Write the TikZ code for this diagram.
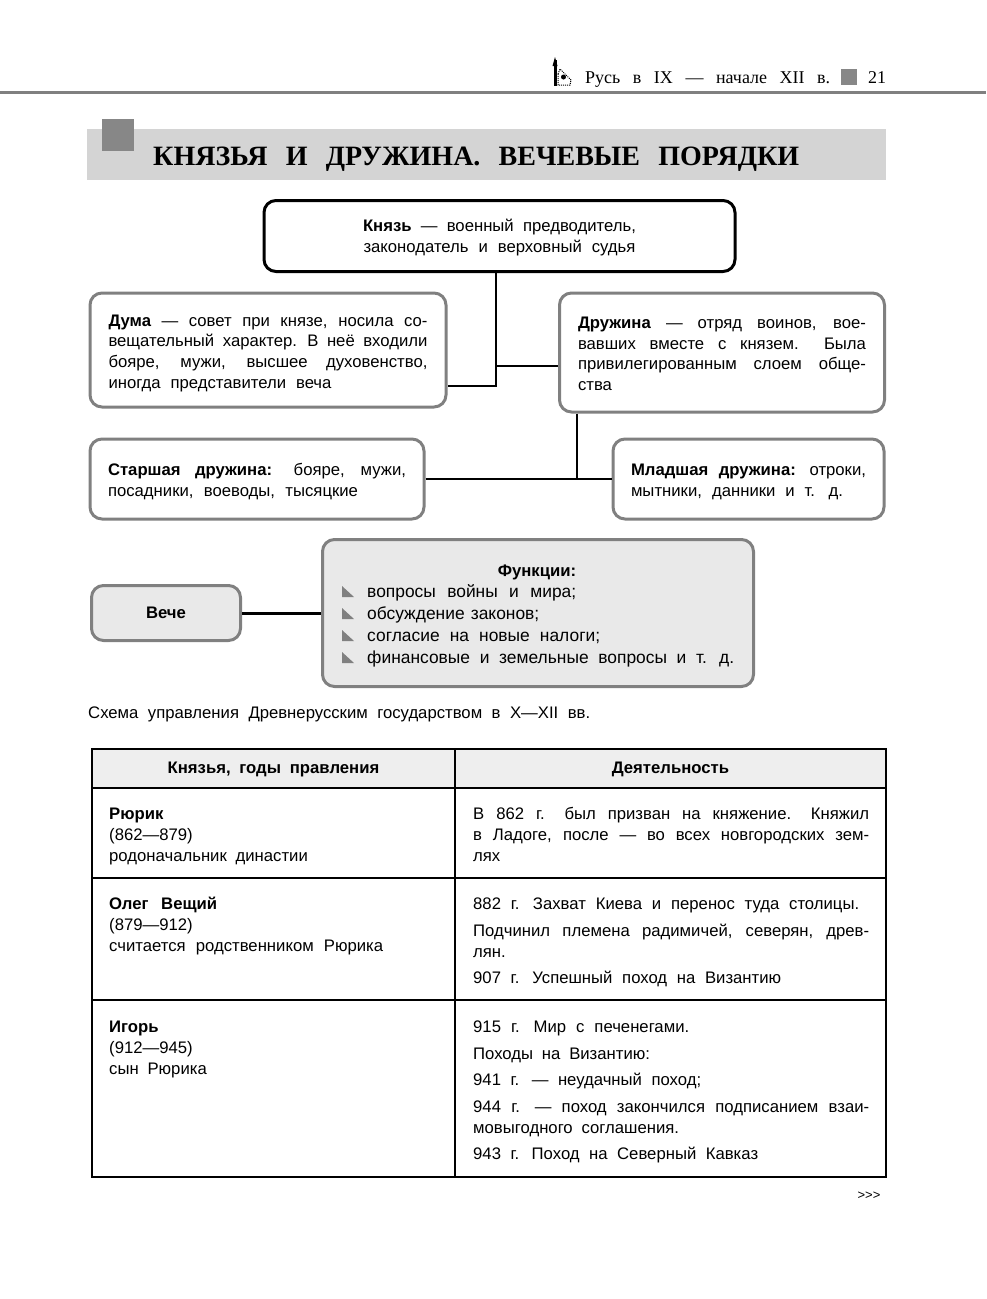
\documentclass[tikz,border=0pt]{standalone}
\usepackage{fontspec}
\setmainfont[WordSpace=1.9]{Liberation Sans}
\newfontfamily\headfont[WordSpace=1.9]{Liberation Serif}
\usepackage{xcolor}
\definecolor{framegray}{RGB}{128, 128, 128}
\definecolor{bandgray}{RGB}{212, 212, 212}
\definecolor{markgray}{RGB}{135, 135, 135}
\definecolor{panegray}{RGB}{233, 233, 233}
\definecolor{headgray}{RGB}{238, 238, 238}
\newcommand{\jline}[1]{\makebox[\hsize][s]{#1}}
\newcommand{\wline}[2]{\makebox[#1pt][s]{#2}}

\begin{document}
\begin{tikzpicture}[x=1pt, y=-1pt,
    txt/.style={inner sep=0pt, font=\fontsize{16.7}{20.8}\selectfont, execute at begin node={\spaceskip=0pt\xspaceskip=0pt}},
    boldtxt/.style={txt, font=\bfseries\fontsize{16.7}{20.8}\selectfont},
    chief/.style={txt, draw=black, line width=3pt, rounded corners=12pt, align=center},
    box/.style={txt, draw=framegray, line width=3pt, rounded corners=12pt, align=left},
    link/.style={line width=2pt}]
    \useasboundingbox (0,0) rectangle (986,1299);

    % Running head
    \fill[framegray] (0,91) rectangle (986,94);
    \draw[line width=3pt] (555,60) -- (555,86);
    \fill (555,57) -- (557.5,66) -- (552.5,66) -- cycle;
    \draw[densely dotted, line width=1pt] (558,74) -- (560,69) -- (571,80) -- (570,85) -- (558,85) -- cycle;
    \fill (563.5,77) circle (2.5);
    \node[txt, anchor=base west, font=\headfont\fontsize{18}{20}\selectfont] (runhead) at (585,83) {\makebox[245pt][s]{Русь в IX — начале XII в.}};
    \fill[markgray] (841,69) rectangle (857,85);
    \node[txt, anchor=base west, font=\headfont\fontsize{18}{20}\selectfont] (pagenum) at (868,83) {21};

    % Title
    \fill[bandgray] (87,129) rectangle (886,180);
    \fill[markgray] (102,119) rectangle (134,151);
    \node[txt, anchor=base west, font=\headfont\bfseries\fontsize{28}{32}\selectfont] (title) at (153,165) {\makebox[646pt][s]{КНЯЗЬЯ И ДРУЖИНА. ВЕЧЕВЫЕ ПОРЯДКИ}};

    % Scheme
    \node[chief, minimum width=471pt, minimum height=71pt, text depth=-9pt] (knyaz) at (499.5,236) {\wline{273}{\textbf{Князь} — военный предводитель,}\\\wline{272}{законодатель и верховный судья}};
    \node[box, text width=319pt, inner xsep=18.5pt, minimum height=114pt, text height=18pt] (duma) at (268,350) {\jline{\textbf{Дума} — совет при князе, носила со-}\\\jline{вещательный характер. В неё входили}\\\jline{бояре, мужи, высшее духовенство,}\\\wline{223}{иногда представители веча}};
    \node[box, text width=288pt, inner xsep=18.5pt, minimum height=119pt, text height=14pt] (druzhina) at (722,352.5) {\jline{\textbf{Дружина} — отряд воинов, вое-}\\\jline{вавших вместе с князем. Была}\\\jline{привилегированным слоем обще-}\\ства};
    \node[box, text width=298pt, inner xsep=18pt, minimum height=80pt, text height=18pt] (starsh) at (257,479) {\jline{\textbf{Старшая дружина:} бояре, мужи,}\\\wline{250}{посадники, воеводы, тысяцкие}};
    \node[box, text width=235pt, inner xsep=18pt, minimum height=80pt, text height=18pt] (mladsh) at (748.5,479) {\jline{\textbf{Младшая дружина:} отроки,}\\\wline{212}{мытники, данники и т. д.}};
    \node[box, boldtxt, fill=panegray, align=center, minimum width=149pt, minimum height=55pt, text depth=-4pt] (veche) at (166,613) {Вече};
    \node[box, fill=panegray, minimum width=431pt, minimum height=147pt] (funcs) at (538,613) {};
    \node[boldtxt, anchor=base] (funchead) at (537,576) {Функции:};
    \foreach \y/\w/\t in {591/209/{вопросы войны и мира;}, 613/172/{обсуждение законов;}, 635/233/{согласие на новые налоги;}, 657/367/{финансовые и земельные вопросы и т. д.}} {
        \fill[framegray] (342,\y-5) -- (342,\y+6) -- (354,\y+6) -- cycle;
        \node[txt, anchor=base west, font=\fontsize{17.4}{21}\selectfont] (item\y) at (367,\y+6) {\wline{\w}{\t}};
    }

    % Links
    \coordinate (trunk) at (496,366);
    \coordinate (stem) at (577,479);
    \draw[link] (knyaz.south -| trunk) -- (trunk |- 0,386) -- (duma.east |- 0,386);
    \draw[link] (trunk) -- (druzhina.west |- trunk);
    \draw[link] (druzhina.south -| stem) -- (stem);
    \draw[link] (starsh.east) -- (mladsh.west);
    \draw[line width=3pt] (veche.east) -- (funcs.west |- veche.east);

    % Caption
    \node[txt, anchor=base west] (caption) at (88,718) {\wline{502}{Схема управления Древнерусским государством в X—XII вв.}};

    % Table
    \fill[headgray] (92,749) rectangle (886,788);
    \draw[link] (92,749) rectangle (886,1177);
    \draw[link] (455,749) -- (455,1177);
    \foreach \y in {788,878,1000} \draw[link] (92,\y) -- (886,\y);
    \node[boldtxt, anchor=base] (colname) at (273.5,773) {Князья, годы правления};
    \node[boldtxt, anchor=base] (colwork) at (670.5,773) {Деятельность};

    % Row 1
    \node[txt, anchor=north west, align=left] (rurik) at (109,808) {\textbf{Рюрик}\\(862—879)\\родоначальник династии};
    \node[txt, anchor=north west, align=left, text width=396pt] (rurikwork) at (473,807) {\jline{В 862 г. был призван на княжение. Княжил}\\\jline{в Ладоге, после — во всех новгородских зем-}\\лях};

    % Row 2
    \node[txt, anchor=north west, align=left] (oleg) at (109,897) {\wline{108}{\textbf{Олег Вещий}}\\(879—912)\\\wline{274}{считается родственником Рюрика}};
    \node[txt, anchor=north west, align=left, text width=396pt] (olegwork) at (473,898) {\wline{386}{882 г. Захват Киева и перенос туда столицы.}\\[6pt]\jline{Подчинил племена радимичей, северян, древ-}\\лян.\\[5.5pt]\wline{308}{907 г. Успешный поход на Византию}};

    % Row 3
    \node[txt, anchor=north west, align=left] (igor) at (109,1021) {\textbf{Игорь}\\(912—945)\\сын Рюрика};
    \node[txt, anchor=north west, align=left, text width=396pt] (igorwork) at (473,1021) {\wline{216}{915 г. Мир с печенегами.}\\[5.5pt]Походы на Византию:\\[5.5pt]\wline{228}{941 г. — неудачный поход;}\\[6pt]\jline{944 г. — поход закончился подписанием взаи-}\\мовыгодного соглашения.\\[5.5pt]\wline{285}{943 г. Поход на Северный Кавказ}};

    \node[txt, font=\fontsize{13}{15}\selectfont] (more) at (869,1196) {{>}{>}{>}};
\end{tikzpicture}
\end{document}
